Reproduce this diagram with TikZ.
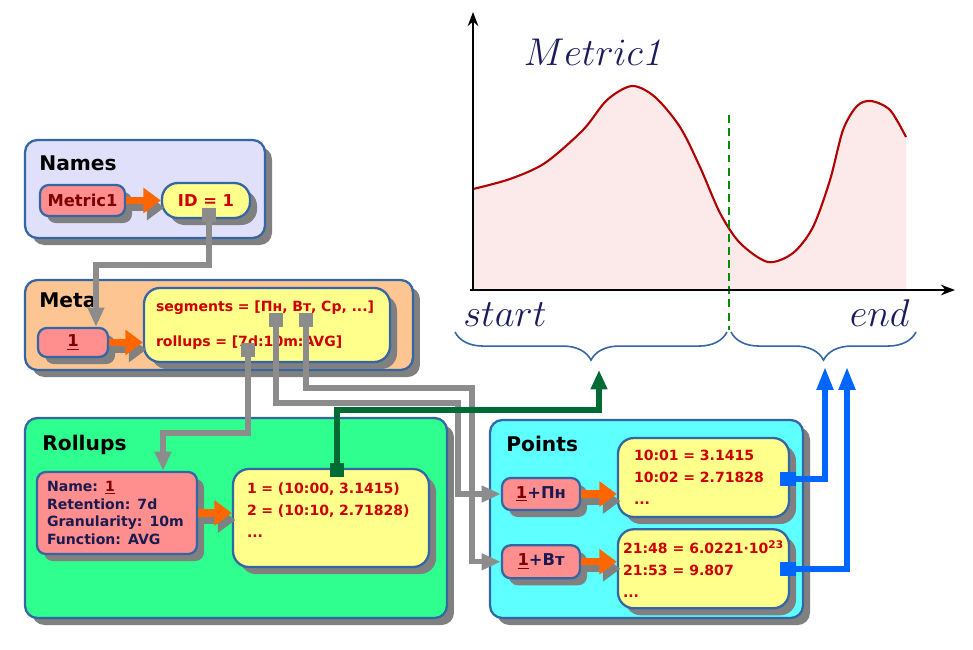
\documentclass[tikz,border=0pt]{standalone}
\usepackage{fix-cm}
\usepackage{fontspec}
\setsansfont{DejaVu Sans}
\usetikzlibrary{arrows.meta,shadows,decorations.pathreplacing,positioning}
\definecolor{boxblue}{RGB}{52,101,164}
\definecolor{namesfill}{RGB}{224,224,250}
\definecolor{metafill}{RGB}{253,197,145}
\definecolor{rollfill}{RGB}{46,255,142}
\definecolor{pointsfill}{RGB}{94,255,255}
\definecolor{keypink}{RGB}{255,142,142}
\definecolor{datayellow}{RGB}{255,255,140}
\definecolor{datared}{RGB}{204,0,0}
\definecolor{keyred}{RGB}{128,0,0}
\definecolor{keynavy}{RGB}{26,26,80}
\definecolor{shadowgray}{RGB}{128,128,128}
\definecolor{arroworange}{RGB}{255,102,0}
\definecolor{conngray}{RGB}{140,140,140}
\definecolor{conngreen}{RGB}{0,107,53}
\definecolor{connblue}{RGB}{0,102,255}
\definecolor{curvered}{RGB}{176,0,0}
\definecolor{curvefill}{RGB}{252,233,233}
\definecolor{splitgreen}{RGB}{0,140,0}
\definecolor{chartnavy}{RGB}{26,26,94}

\begin{document}
\begin{tikzpicture}[x=0.02cm,y=-0.02cm,
    boxshadow/.style={drop shadow={shadow xshift=4pt,shadow yshift=-4pt,
                      fill=shadowgray,opacity=1}},
    group/.style={draw=boxblue,line width=1.3pt,rounded corners=7pt,boxshadow},
    title/.style={font=\sffamily\bfseries\fontsize{11.5}{14}\selectfont,
                  anchor=base west,inner sep=0pt},
    keybox/.style={draw=boxblue,fill=keypink,line width=1.3pt,rounded corners=5pt,
                   boxshadow,font=\sffamily\bfseries\fontsize{9.3}{11}\selectfont,
                   inner sep=0pt},
    databox/.style={draw=boxblue,fill=datayellow,line width=1.3pt,rounded corners=9pt,
                    boxshadow,text=datared,align=left,inner ysep=0pt,
                    font=\sffamily\bfseries\fontsize{8}{12.5}\selectfont},
    oarr/.style={draw=arroworange,line width=4pt,-{Triangle[width=14pt,length=10pt]},
                 preaction={draw=shadowgray,line width=4pt,
                            -{Triangle[width=14pt,length=10pt]},
                            transform canvas={xshift=2pt,yshift=-4pt}}},
    garr/.style={draw=conngray,line width=3pt,
                 {Square[length=8pt,width=8pt]}-{Triangle[width=9pt,length=11pt]}},
    greenarr/.style={draw=conngreen,line width=3.4pt,
                 {Square[length=8pt,width=8.5pt]}-{Triangle[width=9pt,length=11pt]}},
    bluearr/.style={draw=connblue,line width=3pt,
                 {Square[length=9pt,width=8.5pt]}-{Triangle[width=9pt,length=13pt]}},
    axis/.style={line width=1.5pt,-{Stealth[length=8pt,width=6pt]}},
    splitline/.style={draw=splitgreen,line width=1.2pt,dash pattern=on 4.5pt off 3pt},
    bracestyle/.style={draw=boxblue,line width=0.9pt,decorate,
                       decoration={brace,mirror,amplitude=16pt}},
    chartlabel/.style={text=chartnavy,font=\fontsize{22}{26}\selectfont,inner sep=0pt}
  ]
    \useasboundingbox (0,0) rectangle (973,649);

    % the chart
    \fill[curvefill] plot[smooth] coordinates {(473,189) (510,179) (545,163)
        (583,130) (607,100) (632,86) (655,97) (680,127) (700,167) (720,213) (740,243)
        (768,262) (793,253) (813,227) (830,180) (843,130) (857,106) (871,101) (890,110)
        (906,137)} -- (906,290) -- (473,290) -- cycle;
    \draw[curvered,line width=1.2pt] plot[smooth] coordinates {(473,189) (510,179)
        (545,163) (583,130) (607,100) (632,86) (655,97) (680,127) (700,167)
        (720,213) (740,243) (768,262) (793,253) (813,227) (830,180) (843,130) (857,106)
        (871,101) (890,110) (906,137)};
    \draw[splitline] (729,115) -- (729,330);
    \coordinate (origin) at (473,290);
    \draw[axis] (origin) -- (473,12);
    \draw[axis] (470,290) -- (955,290);
    \node[chartlabel,anchor=base] (charttitle) at (593,65) {$Metric\mathit{1}$};
    \node[chartlabel,anchor=base west] (startlbl) at (463,326) {$start$};
    \node[chartlabel,anchor=base east] (endlbl) at (910,326) {$end$};
    \draw[bracestyle] (455,332) -- (727,332);
    \draw[bracestyle] (731,332) -- (916,332);
    \coordinate (leftbrace) at (599,370);
    \coordinate (rightbraceA) at (825,367);
    \coordinate (rightbraceB) at (847,367);

    % Names
    \node[group,fill=namesfill,minimum width=4.8cm,minimum height=1.96cm] (names) at (145,189) {};
    \node[title] (namestitle) at (39,170) {Names};
    \node[keybox,text=keyred,minimum width=1.7cm,minimum height=0.62cm] (m1) at (82.5,200.5) {Metric1};
    \node[databox,font=\sffamily\bfseries\fontsize{9.3}{11}\selectfont,
          minimum width=1.76cm,minimum height=0.7cm] (id) at (206,200.5) {ID = 1};

    % Meta
    \node[group,fill=metafill,minimum width=7.76cm,minimum height=1.8cm] (meta) at (219,325) {};
    \node[title] (metatitle) at (39,307) {Meta};
    \node[keybox,text=keyred,minimum width=1.4cm,minimum height=0.58cm] (key1) at (73,342.5) {\underline{1}};
    \node[databox,font=\sffamily\bfseries\fontsize{8}{19.8}\selectfont,
          minimum width=4.92cm,minimum height=1.48cm,text width=4.44cm,inner xsep=0.24cm]
          (metainfo) at (267,325) {segments = [Пн, Вт, Ср, ...]\\rollups = [7d:10m:AVG]};

    % Rollups
    \node[group,fill=rollfill,minimum width=8.44cm,minimum height=4cm] (rollups) at (236,518) {};
    \node[title] (rolltitle) at (42,450) {Rollups};
    \node[keybox,text=keynavy,align=left,font=\sffamily\bfseries\fontsize{8}{10.2}\selectfont,
          minimum width=3.2cm,minimum height=1.64cm,text width=2.8cm,inner xsep=0.2cm]
          (rname) at (117,513) {Name: \textcolor{keyred}{\underline{1}}\\Retention: 7d\\
          Granularity: 10m\\Function: AVG};
    \node[databox,minimum width=3.92cm,minimum height=1.96cm,text width=3.36cm,inner xsep=0.28cm]
          (rdata) at (331,518) {1 = (10:00, 3.1415)\\2 = (10:10, 2.71828)\\...\rule[-9pt]{0pt}{9pt}};

    % Points
    \node[group,fill=pointsfill,minimum width=6.26cm,minimum height=3.96cm] (points) at (646.5,519) {};
    \node[title] (pointstitle) at (506,451) {Points};
    \node[keybox,text=keynavy,minimum width=1.56cm,minimum height=0.64cm] (pk1) at (541,494)
          {\textcolor{keyred}{\underline{1}}+Пн};
    \node[keybox,text=keynavy,minimum width=1.56cm,minimum height=0.66cm,below=0.66cm of pk1] (pk2)
          {\textcolor{keyred}{\underline{1}}+Вт};
    \node[databox,minimum width=3.42cm,minimum height=1.58cm,text width=2.78cm,inner xsep=0.32cm]
          (pd1) at (703.5,477.5) {10:01 = 3.1415\\10:02 = 2.71828\\...};
    \node[databox,minimum width=3.4cm,minimum height=1.58cm,inner xsep=0.1cm,
          below=0.2cm of pd1] (pd2) {21:48 = 6.0221·10\textsuperscript{23}\\21:53 = 9.807\\...};

    % arrows inside the groups
    \draw[oarr] (m1) -- (id);
    \draw[oarr] (key1) -- (key1 -| metainfo.west);
    \draw[oarr] (rname) -- (rname -| rdata.west);
    \draw[oarr] (pk1) -- (pk1 -| pd1.west);
    \draw[oarr] (pk2) -- (pk2 -| pd2.west);

    % links between the groups
    \coordinate (idport) at (209,208);
    \coordinate (rollport) at (248,343);
    \coordinate (pnport) at (276,313);
    \coordinate (vtport) at (306,313);
    \coordinate (rdataport) at (337,477);
    \coordinate (pd1port) at (780,479);
    \coordinate (pd2port) at (780,569);
    \draw[garr] (idport) -- (209,265) -| ([xshift=0.46cm]key1.north);
    \draw[garr] (rollport) -- (248,433) -| ([xshift=0.92cm]rname.north);
    \draw[garr] (pnport) |- (458,403) |- (pk1.west);
    \draw[garr] (vtport) |- (472,388) |- (pk2.west);
    \draw[greenarr] (rdataport) |- (599,410) -- (leftbrace);
    \draw[bluearr] (pd1port) -| (rightbraceA);
    \draw[bluearr] (pd2port) -| (rightbraceB);
  \end{tikzpicture}
\end{document}
